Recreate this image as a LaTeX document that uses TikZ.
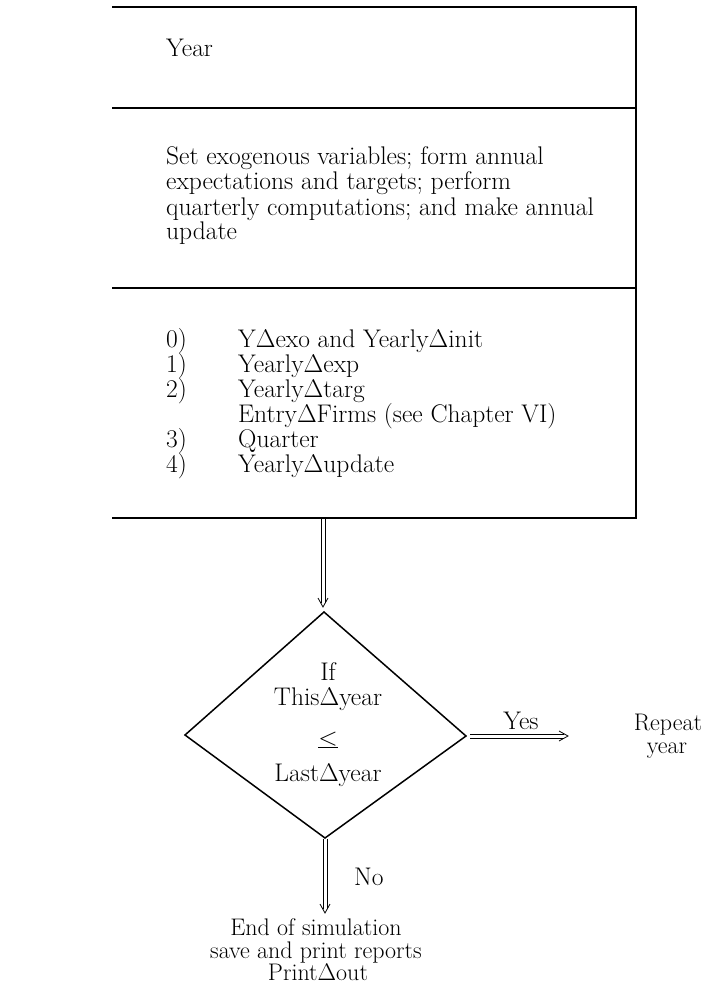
\documentclass[tikz,border=0pt]{standalone}
\usepackage{fix-cm}
\usepackage{fontspec}
\usetikzlibrary{calc}
\newcommand{\dlt}{\ensuremath{\Delta}}
\newcommand{\lequ}{\ensuremath{\underline{<}}}
% hollow double arrow, pointing down, from #1 to #2
\newcommand{\dbldown}[2]{%
  \draw[thinl] ([xshift=-2pt]#1) -- ([xshift=-2pt,yshift=4pt]#2);
  \draw[thinl] ([xshift=2pt]#1) -- ([xshift=2pt,yshift=4pt]#2);
  \draw[thinl, line join=miter] ([xshift=-5pt,yshift=9pt]#2) -- (#2) -- ([xshift=5pt,yshift=9pt]#2);}
% hollow double arrow, pointing right, from #1 to #2
\newcommand{\dblright}[2]{%
  \draw[thinl] ([yshift=2pt]#1) -- ([xshift=-4pt,yshift=2pt]#2);
  \draw[thinl] ([yshift=-2pt]#1) -- ([xshift=-4pt,yshift=-2pt]#2);
  \draw[thinl, line join=miter] ([xshift=-9pt,yshift=5pt]#2) -- (#2) -- ([xshift=-9pt,yshift=-5pt]#2);}
\begin{document}
\begin{tikzpicture}[x=1pt,y=-1pt,
  txt/.style={font=\fontsize{25.5}{25}\selectfont, inner sep=0pt, anchor=base west},
  ctxt/.style={font=\fontsize{25.5}{25}\selectfont, inner sep=0pt, anchor=base},
  etxt/.style={font=\fontsize{24}{24}\selectfont, inner sep=0pt, anchor=base},
  boxline/.style={line width=1.5pt},
  thinl/.style={line width=0.8pt}]
\useasboundingbox (0,0) rectangle (704,992);

% the three-part block
\draw[boxline] (112,7) -- (636,7) -- (636,518) -- (112,518);
\draw[boxline] (112,108) -- (636,108);
\draw[boxline] (112,288) -- (636,288);

\node[txt] (year) at (166,57) {Year};

\node[txt] (set1) at (166,165) {Set exogenous variables; form annual};
\node[txt] (set2) at (166,190) {expectations and targets; perform};
\node[txt] (set3) at (166,215) {quarterly computations; and make annual};
\node[txt] (set4) at (166,240) {update};

\node[txt] (n0) at (166,347) {0)};
\node[txt] (n1) at (166,372) {1)};
\node[txt] (n2) at (166,397) {2)};
\node[txt] (n3) at (166,447) {3)};
\node[txt] (n4) at (166,472) {4)};
\node[txt] (r0) at (238,347) {Y\dlt exo and Yearly\dlt init};
\node[txt] (r1) at (238,372) {Yearly\dlt exp};
\node[txt] (r2) at (238,397) {Yearly\dlt targ};
\node[txt] (re) at (238,422) {Entry\dlt Firms (see Chapter VI)};
\node[txt] (r3) at (238,447) {Quarter};
\node[txt] (r4) at (238,472) {Yearly\dlt update};

% decision diamond
\coordinate (dtop) at (324,612);
\coordinate (dleft) at (185,735);
\coordinate (dright) at (466,736);
\coordinate (dbot) at (325,838);
\draw[boxline, line join=miter] (dtop) -- (dright) -- (dbot) -- (dleft) -- cycle;

\node[ctxt] (cif) at (328,680) {If};
\node[ctxt] (cthis) at (328,705) {This\dlt year};
\node[ctxt] (cle) at (328,745) {\lequ};
\node[ctxt] (clast) at (328,781) {Last\dlt year};

% connectors
\coordinate (boxbot) at (323,519);
\coordinate (dtopin) at (323,607);
\dbldown{boxbot}{dtopin}

\coordinate (yesstart) at (470,736);
\coordinate (yesend) at (568,736);
\dblright{yesstart}{yesend}
\node[ctxt] (yes) at (521,729) {Yes};

\node[ctxt, font=\fontsize{24}{24}\selectfont] (rep1) at (668,730) {Repeat};
\node[ctxt, font=\fontsize{24}{24}\selectfont] (rep2) at (667,753) {year};

\coordinate (nostart) at (325,839);
\coordinate (noend) at (325,913);
\dbldown{nostart}{noend}
\node[txt] (no) at (354,885) {No};

\node[etxt] (end1) at (316,935) {End of simulation};
\node[etxt] (end2) at (316,958) {save and print reports};
\node[etxt] (end3) at (318,980) {Print\dlt out};
\end{tikzpicture}
\end{document}
